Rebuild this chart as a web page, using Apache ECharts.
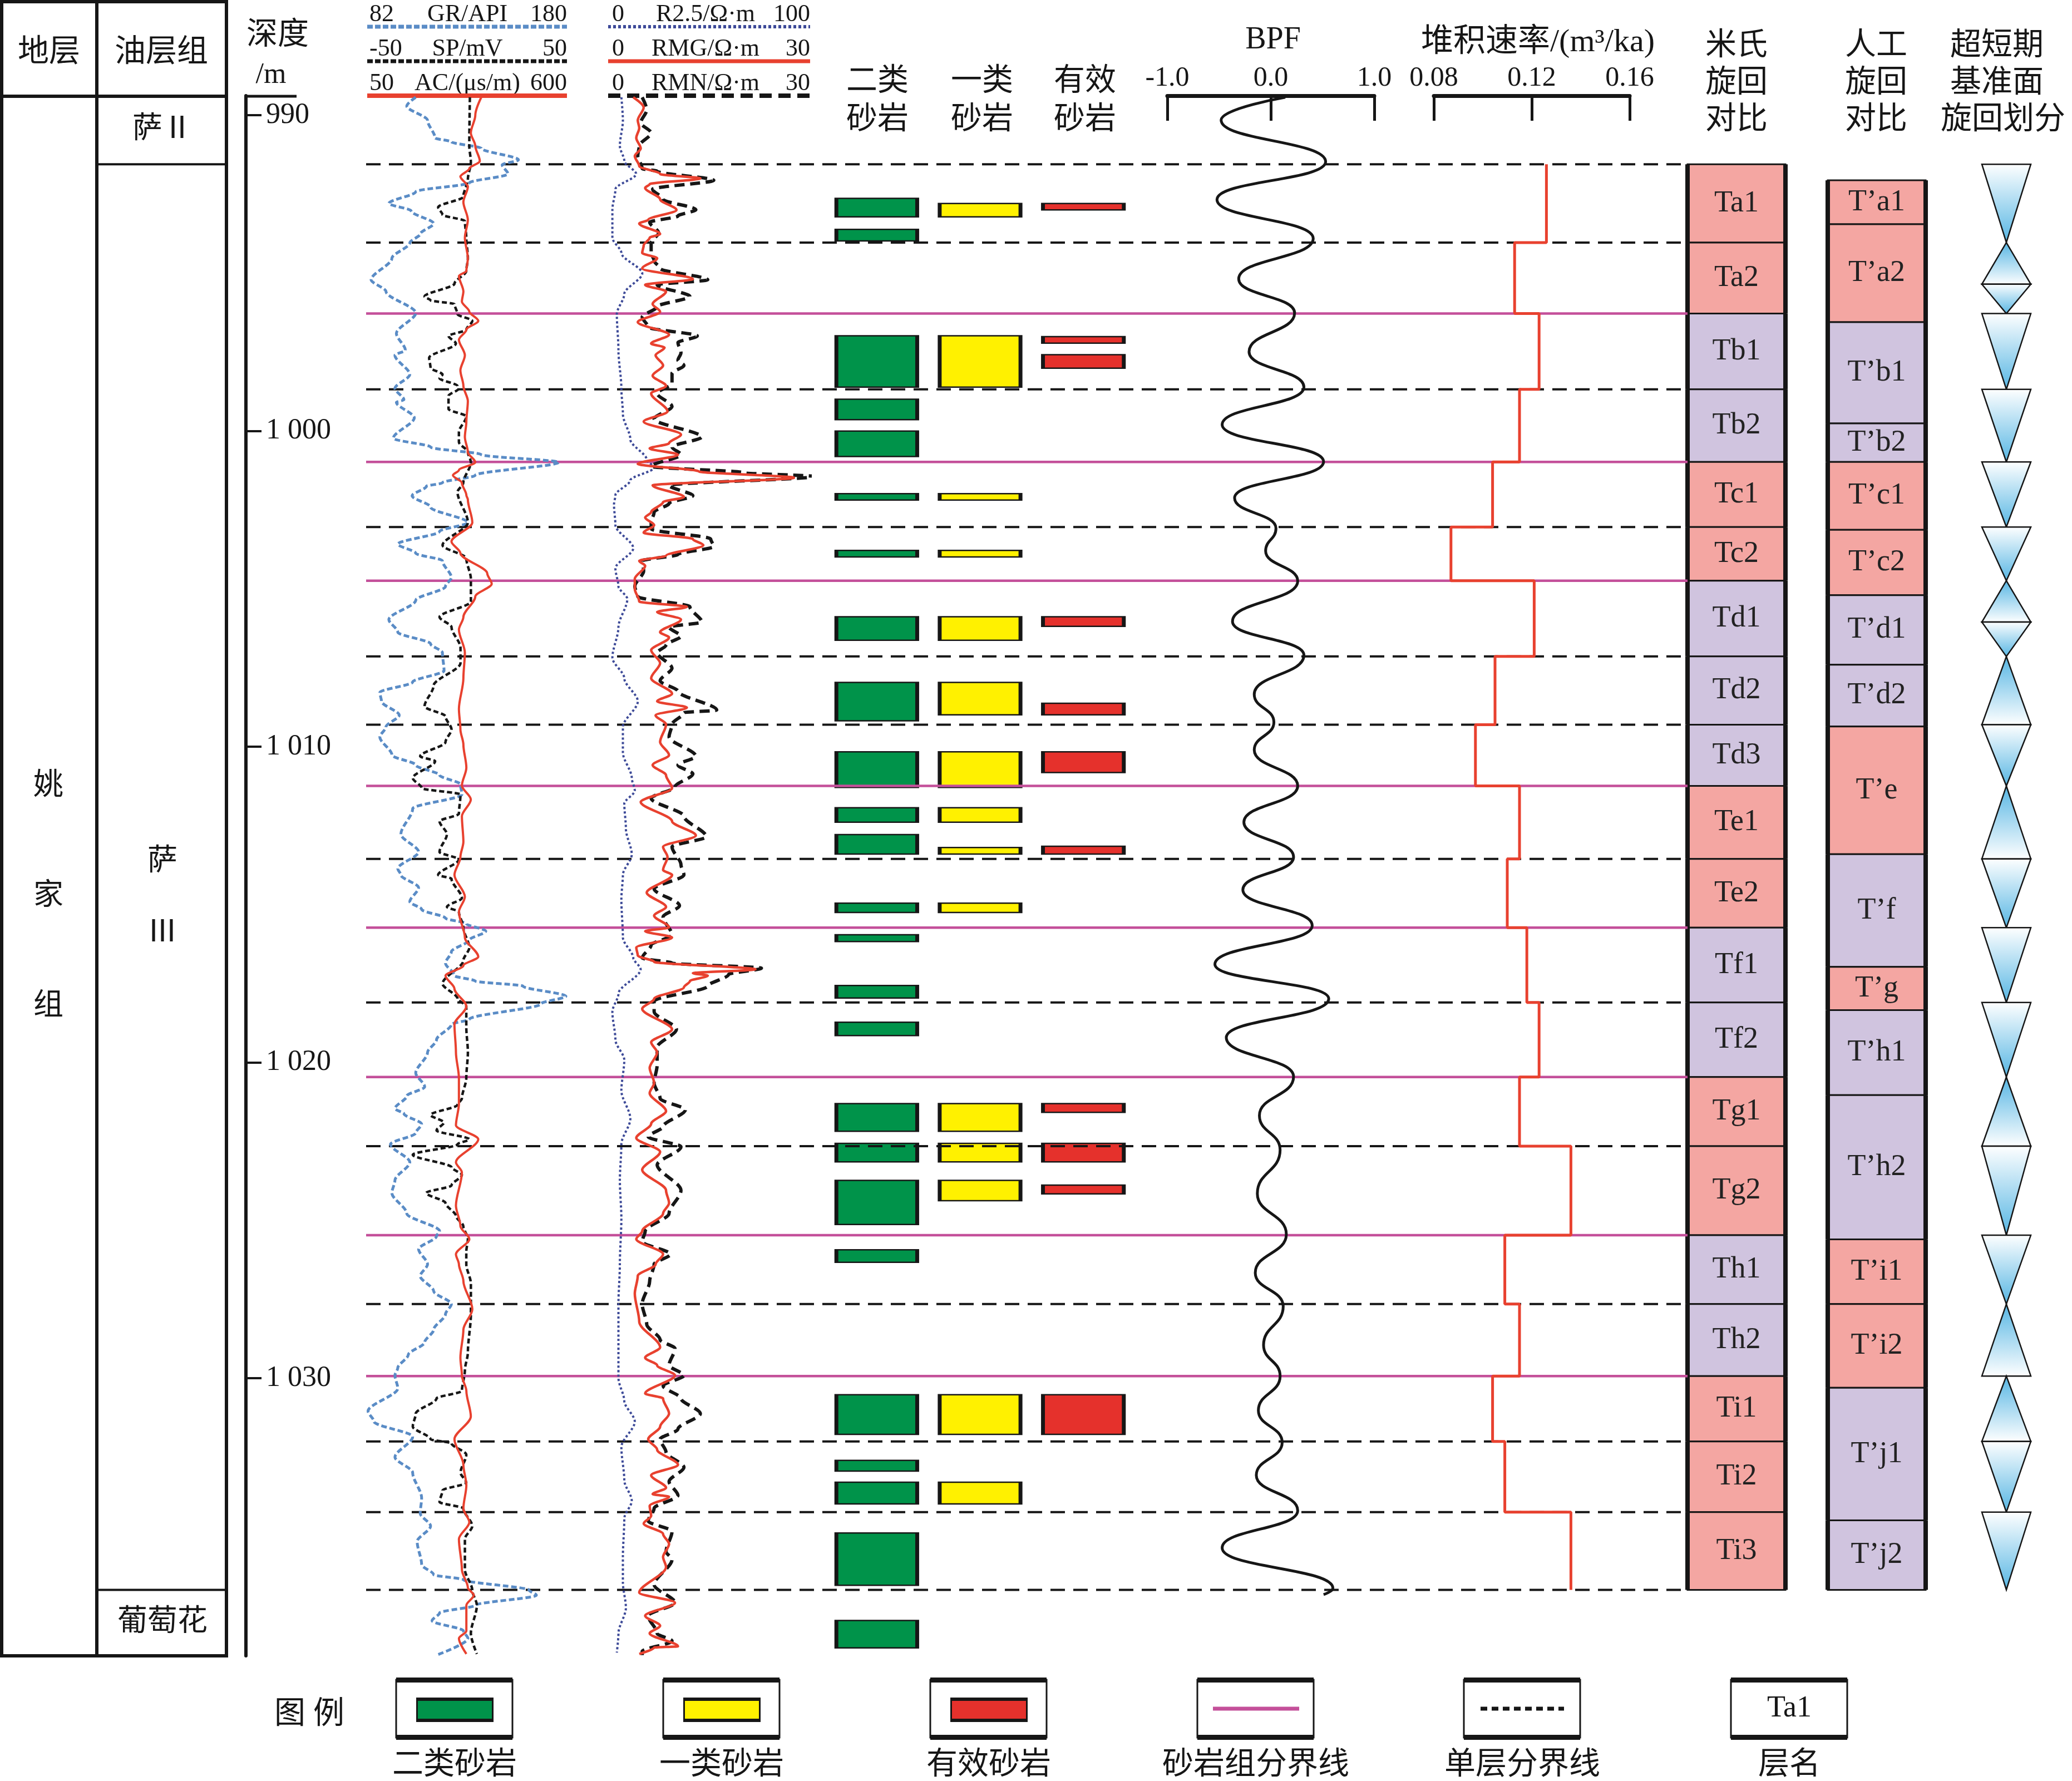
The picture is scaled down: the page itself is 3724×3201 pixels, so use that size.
<!DOCTYPE html>
<html><head><meta charset="utf-8">
<script src="https://cdn.jsdelivr.net/npm/echarts@6/dist/echarts.min.js"></script>
<style>html,body{margin:0;padding:0;background:#fff}#c{width:3724px;height:3201px}</style>
</head><body><div id="c"></div>
<script>
// ---------------- DATA ----------------
const DEPTH_TOP = 989.38, DEPTH_BOTTOM = 1038.79;
const DEPTH_TICKS = [990, 1000, 1010, 1020, 1030];

const STRATUM = ['姚家组'];
const STRATUM_BOUNDS = [989.38, 1038.79];
const OIL_GROUPS = ['萨Ⅱ', '萨Ⅲ', '葡萄花'];
const OIL_GROUP_BOUNDS = [989.38, 991.55, 1036.70, 1038.79];

// log curves: [depth, value]
const GR = [[989.43,105.8],[989.71,101.4],[990.16,111.6],[990.72,115.3],[990.84,123.3],[991.05,138.0],[991.41,156.2],[991.57,148.2],[991.86,151.1],[992.14,132.1],[992.42,105.8],[992.79,92.6],[993.03,103.6],[993.43,114.6],[993.76,108.0],[994.04,102.9],[994.53,94.1],[995.21,83.9],[995.58,91.2],[996.26,105.8],[996.91,96.3],[997.44,100.7],[997.6,95.6],[998.21,102.9],[998.65,95.6],[999.01,100.0],[999.09,96.3],[999.58,105.1],[1000.23,94.8],[1000.51,113.1],[1000.75,138.0],[1000.99,176.0],[1001.40,135.0],[1001.64,118.9],[1001.75,111.0],[1002.05,104.0],[1002.41,113.1],[1002.90,131.4],[1003.18,117.5],[1003.58,97.0],[1003.87,105.8],[1004.11,118.9],[1004.64,123.3],[1004.92,120.4],[1005.36,105.8],[1005.97,92.6],[1006.37,97.0],[1006.74,113.1],[1007.02,118.9],[1007.59,119.7],[1007.95,104.3],[1008.28,88.2],[1008.56,89.0],[1009.0,97.7],[1009.37,91.2],[1009.69,88.2],[1010.26,94.1],[1010.58,105.8],[1010.9,117.5],[1011.19,127.7],[1011.51,128.5],[1011.96,104.3],[1012.77,98.5],[1013.33,107.2],[1013.86,97.0],[1014.06,98.5],[1014.46,107.2],[1014.91,102.9],[1015.15,108.7],[1015.43,120.4],[1015.6,130.6],[1015.84,140.2],[1016.12,132.1],[1016.49,123.3],[1016.85,120.4],[1017.25,124.8],[1017.42,135.0],[1017.58,158.4],[1017.9,179.5],[1018.14,167.2],[1018.63,132.1],[1018.79,123.3],[1019.28,116.0],[1019.68,111.6],[1020.33,105.8],[1020.77,110.2],[1021.06,101.4],[1021.46,95.6],[1021.62,100.0],[1021.95,108.7],[1022.23,105.8],[1022.59,93.4],[1023.16,102.9],[1023.73,95.6],[1024.13,94.1],[1024.78,101.4],[1025.34,117.5],[1025.5,116.0],[1025.91,107.2],[1026.39,111.6],[1026.76,108.0],[1027.24,114.6],[1027.65,123.3],[1027.97,120.4],[1028.46,114.6],[1028.86,110.2],[1029.26,102.1],[1029.67,97.0],[1029.91,95.6],[1030.32,97.0],[1031.04,82.4],[1031.37,85.3],[1031.85,104.3],[1032.5,95.6],[1032.99,104.3],[1033.79,108.7],[1034.28,108.0],[1034.68,113.1],[1035.17,106.5],[1035.9,108.7],[1036.22,114.6],[1036.38,129.2],[1036.71,161.4],[1036.87,165.0],[1037.19,135.0],[1037.43,117.5],[1037.68,113.8],[1038.0,129.2],[1038.24,131.4],[1038.77,116.0]];

const SP = [[989.43,1.4],[990.97,1.1],[991.49,1.9],[992.02,0.4],[992.58,-1.9],[992.91,-14.5],[993.15,-12.3],[993.35,-1.1],[993.88,-0.4],[994.53,0.4],[994.93,-0.4],[995.33,-6.3],[995.74,-21.3],[995.86,-18.3],[995.98,-6.3],[996.3,-4.8],[996.51,2.6],[996.79,-0.4],[996.99,-9.3],[997.23,-5.6],[997.68,-19.0],[998.0,-18.3],[998.21,-12.3],[998.33,-13.8],[998.57,-4.8],[998.65,-4.1],[998.89,-9.3],[999.3,-9.3],[999.54,-0.4],[1000.03,-4.1],[1000.35,-4.1],[1000.67,0.4],[1000.99,1.9],[1001.64,-1.9],[1001.93,-4.8],[1002.9,0.4],[1003.62,-12.3],[1004.03,-0.4],[1004.68,1.9],[1005.4,1.9],[1005.89,-13.8],[1006.21,-7.8],[1006.86,-3.3],[1007.35,-3.3],[1008.07,-16.8],[1008.72,-21.3],[1009.04,-10.8],[1009.45,-7.8],[1009.85,-10.8],[1010.3,-23.5],[1010.46,-16.0],[1010.99,-27.2],[1011.31,-22.7],[1011.51,-3.3],[1012.12,-4.1],[1012.36,-13.8],[1012.77,-10.1],[1013.33,-13.8],[1013.57,-4.1],[1014.06,-14.5],[1014.18,-7.8],[1014.79,-2.6],[1015.07,-10.1],[1015.23,-4.1],[1015.72,-1.9],[1016.36,1.1],[1016.77,-1.9],[1017.5,-12.3],[1017.98,-4.8],[1018.22,-0.4],[1018.87,-0.4],[1019.68,0.4],[1020.49,-0.4],[1021.14,-2.6],[1021.34,-4.8],[1021.66,-18.3],[1021.9,-11.6],[1022.15,-15.3],[1022.43,1.1],[1022.59,-4.8],[1022.92,-27.2],[1023.32,-7.8],[1023.56,-2.6],[1023.89,-7.8],[1024.13,-20.5],[1024.45,-10.8],[1024.86,-5.6],[1025.18,-1.9],[1025.59,0.4],[1025.99,-0.4],[1026.39,-0.4],[1027.0,1.9],[1027.97,1.9],[1029.18,0.4],[1029.75,-1.1],[1030.4,-2.6],[1030.64,-15.3],[1031.12,-25.7],[1031.53,-27.2],[1031.93,-18.3],[1032.06,-7.8],[1032.42,-0.4],[1032.99,-3.3],[1033.31,-0.4],[1033.55,-12.3],[1033.92,-13.8],[1034.12,-1.9],[1034.68,2.6],[1035.09,-1.1],[1036.06,-1.1],[1036.71,2.6],[1037.19,4.9],[1038.08,1.9],[1038.73,4.9]];

const AC = [[989.43,364],[990.0,347.6],[990.56,335.3],[990.97,347.6],[991.45,360],[991.69,331.2],[991.94,306.6],[992.26,327.1],[992.75,314.8],[993.31,327.1],[993.88,318.9],[994.53,327.1],[994.93,323],[995.09,302.5],[995.58,314.8],[995.9,310.7],[996.22,331.2],[996.51,355.8],[996.79,323],[997.11,302.5],[997.6,318.9],[998.08,306.6],[998.57,314.8],[999.05,327.1],[999.7,323],[1000.19,318.9],[1000.67,327.1],[1000.99,347.6],[1001.24,302.5],[1001.4,286.1],[1001.64,310.7],[1002.03,323],[1002.17,327.1],[1002.9,339.4],[1003.5,282],[1003.87,306.6],[1004.51,380.5],[1004.84,392.8],[1005.24,347.6],[1005.89,314.8],[1006.29,302.5],[1007.02,318.9],[1007.83,314.8],[1008.8,302.5],[1009.45,306.6],[1009.93,314.8],[1010.66,323],[1011.23,310.7],[1011.67,335.3],[1012.2,310.7],[1013.01,314.8],[1013.49,306.6],[1014.06,290.2],[1014.75,318.9],[1015.23,302.5],[1016.04,318.9],[1016.65,355.8],[1016.93,314.8],[1017.25,265.6],[1017.66,290.2],[1018.22,323],[1018.79,290.2],[1019.68,294.3],[1020.49,302.5],[1021.3,302.5],[1021.99,294.3],[1022.43,355.8],[1023.16,294.3],[1023.48,310.7],[1024.53,294.3],[1025.18,306.6],[1025.59,331.2],[1026.07,294.3],[1026.39,302.5],[1026.92,314.8],[1027.81,339.4],[1028.46,314.8],[1029.35,306.6],[1029.91,310.7],[1030.4,323],[1031.21,335.3],[1031.93,290.2],[1032.74,314.8],[1033.39,323],[1034.12,314.8],[1034.56,331.2],[1035.09,302.5],[1036.06,310.7],[1036.63,327.1],[1036.87,343.5],[1037.19,323],[1038.0,323],[1038.24,302.5],[1038.73,323]];

const R25 = [[989.43,6.55],[990.16,7.3],[990.97,5.8],[991.45,8.0],[991.86,13.9],[992.34,3.6],[992.99,2.1],[993.88,2.1],[994.36,6.55],[995.01,16.9],[995.66,8.0],[996.3,4.3],[997.44,5.1],[998.65,6.55],[999.46,7.3],[1000.27,11.0],[1000.91,19.1],[1001.16,22.8],[1001.56,11.0],[1002.03,3.6],[1002.33,2.9],[1002.98,3.6],[1003.71,12.45],[1004.35,3.6],[1004.92,5.1],[1005.32,9.5],[1006.21,5.1],[1007.18,2.1],[1007.83,8.0],[1008.56,14.7],[1009.37,7.3],[1010.18,7.3],[1010.99,11.7],[1011.39,13.2],[1011.8,8.0],[1012.6,8.8],[1013.41,11.7],[1014.06,7.3],[1014.83,6.55],[1016.04,7.3],[1016.69,12.45],[1017.05,16.1],[1017.82,5.1],[1018.39,2.1],[1019.28,3.6],[1019.92,8.0],[1020.89,6.55],[1021.78,11.0],[1022.59,6.55],[1023.73,5.8],[1024.94,6.55],[1026.39,5.8],[1027.65,5.1],[1028.78,5.1],[1029.99,5.1],[1030.72,8.0],[1031.37,13.2],[1032.18,6.55],[1033.23,8.0],[1033.88,11.7],[1034.44,8.0],[1035.66,7.3],[1036.46,7.3],[1037.27,8.8],[1038.08,5.1],[1038.69,4.3]];

const RMG = [[989.43,3.73],[989.75,5.28],[990.16,4.4],[990.4,4.62],[990.72,4.18],[991.05,4.84],[991.29,3.96],[991.61,4.62],[991.86,7.72],[992.0,13.7],[992.18,6.17],[992.3,5.5],[992.66,7.72],[993.0,10.15],[993.31,5.95],[993.43,4.62],[993.76,7.72],[993.88,6.17],[994.12,5.28],[994.36,5.06],[994.53,7.28],[994.85,5.06],[995.19,12.59],[995.37,5.5],[995.58,8.6],[995.98,6.61],[996.22,7.72],[996.55,4.4],[996.95,9.05],[997.23,6.39],[997.36,8.38],[997.6,7.05],[997.92,8.16],[998.25,6.61],[998.57,8.6],[998.81,6.39],[999.38,8.82],[999.7,5.28],[1000.11,10.82],[1000.39,9.05],[1000.55,6.17],[1000.75,10.37],[1001.04,4.4],[1001.28,13.47],[1001.48,27.6],[1001.72,6.61],[1002.09,11.26],[1002.25,8.16],[1002.57,6.39],[1002.74,5.5],[1002.98,6.83],[1003.22,5.28],[1003.42,12.59],[1003.62,14.14],[1003.95,8.6],[1004.11,4.62],[1004.27,5.5],[1004.68,3.96],[1005.0,3.96],[1005.4,4.62],[1005.57,11.7],[1005.73,7.28],[1005.97,10.82],[1006.37,7.72],[1006.54,9.05],[1006.94,6.39],[1007.35,7.72],[1007.83,6.39],[1008.32,9.49],[1008.56,7.28],[1008.76,11.7],[1009.0,7.05],[1009.29,8.6],[1009.85,7.72],[1010.26,9.05],[1010.58,6.61],[1010.9,8.6],[1011.31,9.49],[1011.75,4.84],[1012.36,9.49],[1012.81,13.03],[1013.17,8.16],[1013.49,8.82],[1013.9,8.16],[1014.06,9.5],[1014.62,5.73],[1015.07,8.6],[1015.35,6.83],[1015.72,9.05],[1015.84,5.5],[1016.04,9.49],[1016.36,4.18],[1016.61,4.4],[1016.81,6.83],[1017.05,21.88],[1017.17,12.59],[1017.25,14.8],[1017.42,12.15],[1017.62,11.26],[1017.98,6.83],[1018.3,5.06],[1018.95,9.49],[1019.36,6.39],[1019.68,7.28],[1020.17,6.17],[1020.65,6.83],[1020.97,6.17],[1021.54,8.6],[1021.94,6.39],[1022.39,4.18],[1022.83,7.72],[1023.4,5.06],[1024.05,8.6],[1024.45,9.05],[1024.78,8.16],[1025.34,5.06],[1025.59,4.18],[1026.07,8.16],[1026.39,7.05],[1026.76,4.4],[1027.32,3.96],[1028.21,4.62],[1029.02,7.72],[1029.35,5.5],[1029.59,7.28],[1029.91,9.93],[1030.48,5.5],[1030.64,8.16],[1031.12,9.05],[1031.53,7.72],[1031.93,5.95],[1032.26,7.28],[1032.74,10.37],[1033.07,6.39],[1033.47,8.6],[1033.67,6.61],[1033.75,9.05],[1034.04,6.17],[1034.36,6.39],[1034.6,5.28],[1034.93,8.16],[1035.25,9.05],[1035.66,8.16],[1035.98,8.6],[1036.79,4.62],[1037.11,9.93],[1037.52,5.5],[1037.84,7.72],[1038.08,6.17],[1038.49,10.37],[1038.53,6.83],[1038.73,4.62]];

const RMN = [[989.43,5.06],[989.83,5.73],[990.24,4.84],[990.56,6.39],[990.97,4.62],[991.29,4.4],[991.69,5.06],[991.77,7.28],[992.06,15.69],[992.34,6.61],[992.66,8.16],[992.99,13.03],[993.19,10.37],[993.39,6.17],[993.72,7.5],[994.04,6.39],[994.36,6.39],[994.61,6.83],[994.85,7.72],[995.21,14.8],[995.37,7.28],[995.74,12.15],[996.06,7.28],[996.39,5.06],[996.71,5.95],[996.99,13.25],[997.2,10.37],[997.52,10.82],[997.76,10.37],[997.92,11.26],[998.17,9.49],[998.49,9.49],[998.81,7.28],[999.22,9.49],[999.62,6.83],[1000.19,13.92],[1000.51,9.49],[1000.75,10.82],[1001.12,6.39],[1001.32,20.1],[1001.44,30.8],[1001.72,9.05],[1002.05,12.59],[1002.29,9.05],[1002.57,6.83],[1002.9,6.39],[1003.1,6.39],[1003.42,15.24],[1003.66,15.69],[1003.91,10.37],[1004.11,5.06],[1004.43,5.28],[1004.92,3.96],[1005.24,4.4],[1005.57,12.15],[1006.05,13.92],[1006.21,9.05],[1006.5,10.82],[1006.78,8.6],[1007.02,7.28],[1007.51,9.49],[1007.91,7.72],[1008.24,10.37],[1008.84,16.13],[1008.92,11.26],[1009.29,9.49],[1009.69,9.05],[1010.3,13.03],[1010.58,10.37],[1010.86,12.59],[1011.27,9.93],[1011.63,6.39],[1012.2,11.26],[1012.85,14.58],[1013.17,9.49],[1013.74,10.82],[1014.06,11.26],[1014.5,6.83],[1015.03,10.6],[1015.39,8.16],[1015.96,9.49],[1016.28,6.39],[1016.69,5.06],[1016.85,9.49],[1017.01,22.77],[1017.21,17.9],[1017.58,14.8],[1018.06,6.83],[1018.39,6.83],[1018.95,10.15],[1019.52,7.28],[1020.08,7.28],[1020.65,6.83],[1021.14,7.72],[1021.5,11.48],[1022.03,8.16],[1022.35,5.95],[1022.67,10.82],[1023.24,7.28],[1024.05,10.82],[1024.78,9.05],[1025.34,5.5],[1025.67,5.06],[1026.07,9.27],[1026.39,6.83],[1026.92,6.17],[1027.65,5.06],[1028.29,5.73],[1028.78,7.72],[1029.06,9.93],[1029.59,9.05],[1029.91,11.26],[1030.24,8.16],[1030.64,10.82],[1031.12,13.7],[1031.61,10.37],[1031.93,7.72],[1032.34,8.6],[1032.82,11.26],[1033.27,9.05],[1033.71,10.37],[1034.12,6.83],[1034.52,5.95],[1034.85,9.49],[1035.49,8.6],[1035.74,9.49],[1036.54,6.83],[1037.11,9.93],[1037.52,5.95],[1038.08,7.28],[1038.32,9.49],[1038.65,5.06],[1038.77,5.06]];

// sand bodies: [top, bottom]
const SAND_II = [[992.61,993.24],[993.59,994.0],[996.96,998.63],[998.97,999.66],[999.98,1000.83],[1001.96,1002.21],[1003.76,1004.01],[1005.86,1006.65],[1007.94,1009.2],[1010.14,1011.31],[1011.91,1012.41],[1012.76,1013.42],[1014.93,1015.27],[1015.93,1016.19],[1017.54,1017.98],[1018.7,1019.17],[1021.28,1022.2],[1022.54,1023.17],[1023.71,1025.15],[1025.91,1026.35],[1030.5,1031.8],[1032.58,1032.96],[1033.27,1034.0],[1034.88,1036.58],[1037.65,1038.56]];
const SAND_I = [[992.77,993.24],[996.96,998.63],[1001.96,1002.21],[1003.76,1004.01],[1005.86,1006.65],[1007.94,1009.01],[1010.14,1011.31],[1011.91,1012.41],[1013.17,1013.42],[1014.93,1015.27],[1021.28,1022.2],[1022.54,1023.17],[1023.71,1024.4],[1030.5,1031.8],[1033.27,1034.0]];
const SAND_EFF = [[992.77,993.02],[996.99,997.24],[997.56,998.03],[1005.86,1006.21],[1008.6,1009.01],[1010.14,1010.84],[1013.13,1013.42],[1021.28,1021.6],[1022.54,1023.17],[1023.86,1024.18],[1030.5,1031.8]];

// BPF: [depth, value]
const BPF = [[989.43,0.14],[990.15,-0.48],[991.47,0.53],[992.67,-0.52],[993.90,0.41],[995.18,-0.31],[996.26,0.23],[997.49,-0.21],[998.61,0.32],[999.80,-0.47],[1000.97,0.51],[1002.12,-0.35],[1003.08,0.05],[1003.80,-0.05],[1004.75,0.26],[1006.03,-0.37],[1007.10,0.32],[1008.34,-0.16],[1009.22,0.03],[1010.10,-0.16],[1011.24,0.26],[1012.39,-0.26],[1013.49,0.22],[1014.53,-0.27],[1015.66,0.40],[1016.89,-0.54],[1017.98,0.56],[1019.21,-0.43],[1020.45,0.22],[1021.68,-0.11],[1022.77,0.09],[1024.15,-0.13],[1025.44,0.15],[1026.66,-0.15],[1027.72,0.12],[1028.95,-0.07],[1029.93,0.09],[1031.02,-0.12],[1032.03,0.11],[1033.07,-0.14],[1034.19,0.26],[1035.37,-0.47],[1036.65,0.60],[1036.85,0.51]];

// Milankovitch cycle layers
const MI_LAYERS = ['Ta1','Ta2','Tb1','Tb2','Tc1','Tc2','Td1','Td2','Td3','Te1','Te2','Tf1','Tf2','Tg1','Tg2','Th1','Th2','Ti1','Ti2','Ti3'];
const MI_BOUNDS = [991.55,994.03,996.28,998.68,1000.98,1003.04,1004.74,1007.14,1009.30,1011.24,1013.55,1015.73,1018.10,1020.46,1022.65,1025.47,1027.65,1029.93,1032.00,1034.24,1036.70];
const RATE = [0.126,0.113,0.123,0.115,0.104,0.087,0.121,0.105,0.097,0.115,0.110,0.118,0.123,0.115,0.136,0.109,0.115,0.104,0.109,0.136];

// artificial cycle layers
const RG_LAYERS = ['T’a1','T’a2','T’b1','T’b2','T’c1','T’c2','T’d1','T’d2','T’e','T’f','T’g','T’h1','T’h2','T’i1','T’i2','T’j1','T’j2'];
const RG_BOUNDS = [992.06,993.45,996.55,999.76,1000.98,1003.13,1005.2,1007.4,1009.36,1013.4,1016.97,1018.34,1021.03,1025.6,1027.65,1030.3,1034.5,1036.7];

// boundary lines
const GROUP_LINES = [996.28,1000.98,1004.74,1011.24,1015.73,1020.46,1025.47,1029.93];
const SINGLE_LINES = [991.55,994.03,998.68,1003.04,1007.14,1009.30,1013.55,1018.10,1022.65,1027.65,1032.00,1034.24,1036.70];

// ultra-short base-level cycles: [top, bottom, direction]
const CYCLES = [[991.55,994.03,'down'],[994.03,995.35,'up'],[995.35,996.28,'down'],[996.28,998.68,'down'],[998.68,1000.98,'down'],[1000.98,1003.04,'down'],[1003.04,1004.74,'down'],[1004.74,1006.05,'up'],[1006.05,1007.14,'down'],[1007.14,1009.30,'up'],[1009.30,1011.24,'down'],[1011.24,1013.55,'up'],[1013.55,1015.73,'down'],[1015.73,1018.10,'down'],[1018.10,1020.46,'down'],[1020.46,1022.65,'up'],[1022.65,1025.47,'down'],[1025.47,1027.65,'down'],[1027.65,1029.93,'up'],[1029.93,1032.00,'up'],[1032.00,1034.24,'down'],[1034.24,1036.70,'down']];

// ---------------- STYLE / LAYOUT ----------------
const FONT = '"Liberation Serif","Noto Sans CJK SC",serif';
const fnt = s => s + 'px ' + FONT;
const INK = '#161616';
const PINK = '#F4A6A2', LAV = '#D0C4DF';
const C_GR = '#5A8CC6', C_NAVY = '#3D4A98', C_RED = '#E8412F', C_MAG = '#C4509A';
const C_GREEN = '#00934A', C_YELLOW = '#FFF100', C_SRED = '#E5312C';
const TOP = 172, H = 2804;
const gridBoxes = [[0,410],[442,140],[660,359],[1093,363],[1483,557],[2098,372],[2577,352],[658,2375],[3033,176],[3285,176],[3562,88]];
const grid = gridBoxes.map(([l,w]) => ({left:l, top:TOP, width:w, height:H}));

const yAxis = grid.map((g,i) => ({
  gridIndex:i, type:'value', min:DEPTH_TOP, max:DEPTH_BOTTOM, inverse:true,
  show: i === 1, splitLine:{show:false},
  axisLine:{show:true, onZero:false, lineStyle:{color:INK, width:6}},
  axisTick:{show:true, inside:true, length:28, lineStyle:{color:INK, width:4}, customValues:DEPTH_TICKS},
  axisLabel:{show:true, inside:true, margin:36, fontSize:52, fontFamily:FONT, color:INK, customValues:DEPTH_TICKS,
    formatter: v => v >= 1000 ? String(v)[0] + ' ' + String(v).slice(1) : String(v)}
}));

const hx = (gi, min, max) => ({gridIndex:gi, type:'value', min, max, show:false, splitLine:{show:false}});
const topAxis = (gi, min, max, interval, dec) => ({
  gridIndex:gi, type:'value', min, max, interval, position:'top', splitLine:{show:false},
  axisLine:{show:true, onZero:false, lineStyle:{color:INK, width:7}},
  axisTick:{show:true, inside:true, length:45, lineStyle:{color:INK, width:5}},
  axisLabel:{show:true, margin:6, fontSize:50, fontFamily:FONT, color:INK, showMinLabel:true, showMaxLabel:true,
    formatter: v => v.toFixed(dec)}
});
const xAxis = [
  hx(0,0,1), hx(1,0,1),
  hx(2,82,180), hx(2,-50,50), hx(2,50,600),
  hx(3,0,100), hx(3,0,30), hx(3,0,30),
  hx(4,0,3),
  topAxis(5,-1,1,1,1), topAxis(6,0.08,0.16,0.04,2),
  hx(7,0,1), hx(8,0,1), hx(9,0,1), hx(10,0,1)
];

function curve(name, data, xi, yi, color, width, dash, smooth) {
  return {type:'line', name, xAxisIndex:xi, yAxisIndex:yi, data:data.map(p => [p[1], p[0]]),
    symbol:'none', smooth: smooth, smoothMonotone:'y', clip:false, z:5, silent:true,
    lineStyle:{color, width, type: dash || 'solid'}};
}

// formation table cells
const FORM_DATA = [[0, STRATUM_BOUNDS[0], STRATUM_BOUNDS[1], 0]].concat(
  OIL_GROUPS.map((n,i) => [1, OIL_GROUP_BOUNDS[i], OIL_GROUP_BOUNDS[i+1], i > 0 ? 1 : 0]));
const FORM_NAMES = STRATUM.concat(OIL_GROUPS);
const COL_EDGES = [0, 174, 410];
function formRender(params, api) {
  const i = params.dataIndex, col = api.value(0);
  const y0 = api.coord([0, api.value(1)])[1], y1 = api.coord([0, api.value(2)])[1];
  const xL = COL_EDGES[col], xR = COL_EDGES[col+1], xm = (xL + xR) / 2;
  const name = FORM_NAMES[i];
  const vertical = (y1 - y0) > 600;
  const children = [];
  if (api.value(3)) children.push({type:'line', shape:{x1:xL, y1:y0, x2:xR, y2:y0}, style:{stroke:INK, lineWidth:4}});
  children.push({type:'text', style:{text: vertical ? name.split('').join('\n') : name, x:xm, y:(y0+y1)/2 + (vertical ? 38 : 0),
    font: fnt(54), fill:INK, align:'center', verticalAlign:'middle', textAlign:'center', textVerticalAlign:'middle',
    lineHeight: col === 0 ? 198 : 128}});
  return {type:'group', children};
}

function sandRender(color) {
  return function (params, api) {
    const col = api.value(0);
    const a = api.coord([col + 0.09, api.value(1)]), b = api.coord([col + 0.91, api.value(2)]);
    const w = b[0] - a[0], h = b[1] - a[1];
    return {type:'group', children:[
      {type:'rect', shape:{x:a[0], y:a[1], width:w, height:h}, style:{fill:INK}},
      {type:'rect', shape:{x:a[0]+7, y:a[1]+2.5, width:w-14, height:Math.max(h-5, 2)}, style:{fill:color}}
    ]};
  };
}

function hLineRender(stroke, width, dash) {
  return function (params, api) {
    const a = api.coord([0, api.value(1)]), b = api.coord([1, api.value(1)]);
    return {type:'line', shape:{x1:a[0], y1:a[1], x2:b[0], y2:b[1]}, style:{stroke, lineWidth:width, lineDash:dash}};
  };
}

function cellRender(names) {
  return function (params, api) {
    const name = names[params.dataIndex];
    const a = api.coord([0, api.value(1)]), b = api.coord([1, api.value(2)]);
    const idx = 'abcdefghij'.indexOf(name.match(/[a-j]/)[0]);
    const fill = idx % 2 === 0 ? PINK : LAV;
    return {type:'group', children:[
      {type:'rect', shape:{x:a[0], y:a[1], width:b[0]-a[0], height:b[1]-a[1]}, style:{fill, stroke:INK, lineWidth:3}},
      {type:'line', shape:{x1:a[0], y1:a[1], x2:a[0], y2:b[1]}, style:{stroke:INK, lineWidth:8}},
      {type:'line', shape:{x1:b[0], y1:a[1], x2:b[0], y2:b[1]}, style:{stroke:INK, lineWidth:8}},
      {type:'text', style:{text:name, x:(a[0]+b[0])/2, y:(a[1]+b[1])/2, font:fnt(54), fill:'#222',
        align:'center', verticalAlign:'middle', textAlign:'center', textVerticalAlign:'middle'}}
    ]};
  };
}

function cycleRender(params, api) {
  const dir = CYCLES[params.dataIndex][2];
  const a = api.coord([0, api.value(1)]), b = api.coord([1, api.value(2)]);
  const x0 = a[0], x1 = b[0], xm = (x0 + x1) / 2, y0 = a[1], y1 = b[1];
  const down = dir === 'down';
  const pts = down ? [[x0,y0],[x1,y0],[xm,y1]] : [[xm,y0],[x0,y1],[x1,y1]];
  const stops = down ? [{offset:0,color:'#ffffff'},{offset:1,color:'#55B5E3'}] : [{offset:0,color:'#55B5E3'},{offset:1,color:'#ffffff'}];
  return {type:'polygon', shape:{points:pts}, style:{fill:{type:'linear', x:0, y:0, x2:0, y2:1, colorStops:stops}, stroke:INK, lineWidth:2.5}};
}

// step line of deposition rate built from layer bounds
const RATE_STEP = [];
RATE.forEach((r,i) => { RATE_STEP.push([r, MI_BOUNDS[i]]); RATE_STEP.push([r, MI_BOUNDS[i+1]]); });

const series = [
  {type:'custom', xAxisIndex:0, yAxisIndex:0, data:FORM_DATA, renderItem:formRender, silent:true, z:2},
  {type:'custom', xAxisIndex:8, yAxisIndex:4, data:SAND_II.map(d => [0, d[0], d[1]]), renderItem:sandRender(C_GREEN), silent:true, z:2},
  {type:'custom', xAxisIndex:8, yAxisIndex:4, data:SAND_I.map(d => [1, d[0], d[1]]), renderItem:sandRender(C_YELLOW), silent:true, z:2},
  {type:'custom', xAxisIndex:8, yAxisIndex:4, data:SAND_EFF.map(d => [2, d[0], d[1]]), renderItem:sandRender(C_SRED), silent:true, z:2},
  {type:'custom', xAxisIndex:11, yAxisIndex:7, data:SINGLE_LINES.map(d => [0, d]), renderItem:hLineRender(INK, 4, [26,15]), silent:true, z:3},
  {type:'custom', xAxisIndex:11, yAxisIndex:7, data:GROUP_LINES.map(d => [0, d]), renderItem:hLineRender(C_MAG, 4.5, null), silent:true, z:3},
  curve('GR', GR, 2, 2, C_GR, 5, [10,5], 0.3),
  curve('SP', SP, 3, 2, INK, 4.5, [9,5], 0.3),
  curve('AC', AC, 4, 2, C_RED, 4, null, 0.3),
  curve('R2.5', R25, 5, 3, C_NAVY, 4, [4,4], 0.3),
  curve('RMN', RMN, 7, 3, INK, 6, [18,10], 0.3),
  curve('RMG', RMG, 6, 3, C_RED, 4.5, null, 0.3),
  curve('BPF', BPF, 9, 5, INK, 5, null, 0.5),
  {type:'line', xAxisIndex:10, yAxisIndex:6, data:RATE_STEP, symbol:'none', silent:true, z:5, lineStyle:{color:C_RED, width:5}},
  {type:'custom', xAxisIndex:12, yAxisIndex:8, data:MI_LAYERS.map((n,i) => [0.5, MI_BOUNDS[i], MI_BOUNDS[i+1]]), renderItem:cellRender(MI_LAYERS), silent:true, z:2},
  {type:'custom', xAxisIndex:13, yAxisIndex:9, data:RG_LAYERS.map((n,i) => [0.5, RG_BOUNDS[i], RG_BOUNDS[i+1]]), renderItem:cellRender(RG_LAYERS), silent:true, z:2},
  {type:'custom', xAxisIndex:14, yAxisIndex:10, data:CYCLES.map(c => [0.5, c[0], c[1]]), renderItem:cycleRender, silent:true, z:2}
];

// ---------------- GRAPHIC (frame, headers, legend) ----------------
const G = [];
const ln = (x1,y1,x2,y2,stroke,w,dash) => G.push({type:'line', shape:{x1,y1,x2,y2}, style:{stroke, lineWidth:w, lineDash:dash||null}, silent:true});
const tx = (s,x,y,size,align) => G.push({type:'text', x, y, style:{text:s, font:fnt(size), fill:INK,
  align:align||'center', verticalAlign:'middle', textAlign:align||'center', textVerticalAlign:'middle'}, silent:true});
const rc = (x,y,w,h,fill,stroke,lw) => G.push({type:'rect', shape:{x,y,width:w,height:h}, style:{fill:fill||'none', stroke:stroke||null, lineWidth:lw||0}, silent:true});

// table frame
ln(0,3,410,3,INK,6); ln(3,0,3,2976,INK,6); ln(174,0,174,2976,INK,6); ln(407,0,407,2976,INK,6);
ln(0,173,410,173,INK,6); ln(0,2976,410,2976,INK,6);
tx('地层',88,95,56); tx('油层组',290,95,56); tx('深度',499,64,56); tx('/m',487,135,52);
ln(440,173,533,173,INK,5);

// log track headers
const rows = [26,88,150];
[['82','GR/API','180'],['-50','SP/mV','50'],['50','AC/(μs/m)','600']].forEach((r,i) => {
  tx(r[0],664,rows[i],44,'left'); tx(r[1],840,rows[i],44); tx(r[2],1019,rows[i],44,'right');
});
[['0','R2.5/Ω·m','100'],['0','RMG/Ω·m','30'],['0','RMN/Ω·m','30']].forEach((r,i) => {
  tx(r[0],1100,rows[i],44,'left'); tx(r[1],1268,rows[i],44); tx(r[2],1456,rows[i],44,'right');
});
ln(660,48,1019,48,C_GR,7,[10,4]); ln(660,110,1019,110,INK,7,[10,4]); ln(660,172,1019,172,C_RED,8);
ln(1093,48,1456,48,C_NAVY,6,[5,4]); ln(1093,110,1456,110,C_RED,7); ln(1093,172,1456,172,INK,8,[22,12]);

// other headers
[['二类',1577],['一类',1765],['有效',1950]].forEach(([s,x]) => { tx(s,x,147,56); tx('砂岩',x,216,56); });
tx('BPF',2288,72,56);
tx('堆积速率/(m³/ka)',2764,77,58);
tx('米氏',3121,83,56); tx('旋回',3121,150,56); tx('对比',3121,216,56);
tx('人工',3372,83,56); tx('旋回',3372,150,56); tx('对比',3372,216,56);
tx('超短期',3589,83,56); tx('基准面',3589,150,56); tx('旋回划分',3600,216,56);

// legend
tx('图 例',556,3082,56);
const LEG_X = [712,1192,1672,2152,2631,3111];
const LEG_LABELS = ['二类砂岩','一类砂岩','有效砂岩','砂岩组分界线','单层分界线','层名'];
LEG_X.forEach((x,i) => {
  rc(x,3019,209,104,'none',INK,3);
  rc(x,3015,209,9,INK); rc(x,3118,209,9,INK);
  tx(LEG_LABELS[i], x+105, 3173, 56);
});
[[C_GREEN,0],[C_YELLOW,1],[C_SRED,2]].forEach(([c,i]) => {
  const x = LEG_X[i];
  rc(x+36,3051,139,44,INK); rc(x+39,3057,133,32,c);
});
ln(LEG_X[3]+28,3071,LEG_X[3]+183,3071,C_MAG,7);
ln(LEG_X[4]+30,3071,LEG_X[4]+180,3071,INK,7,[12,8]);
tx('Ta1',LEG_X[5]+105,3071,54);

const chart = echarts.init(document.getElementById('c'), null, {renderer:'canvas', width:3724, height:3201});
chart.setOption({
  animation:false, backgroundColor:'#ffffff',
  grid, xAxis, yAxis, series,
  graphic:{elements:G}
});
</script></body></html>
